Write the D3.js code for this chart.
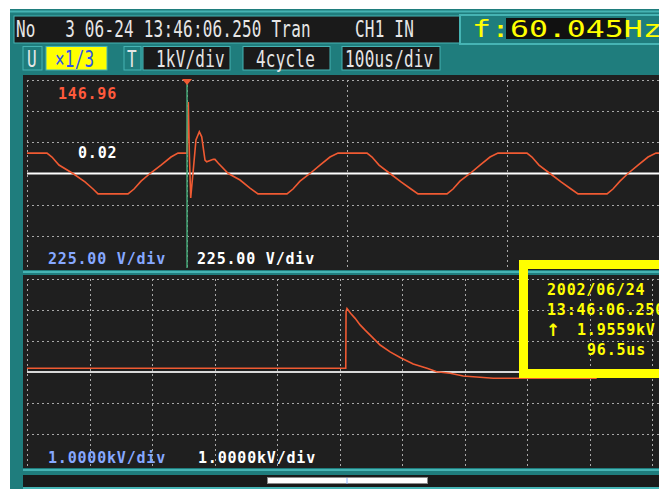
<!DOCTYPE html>
<html>
<head>
<meta charset="utf-8">
<script src="https://cdn.jsdelivr.net/npm/d3@7"></script>
<style>
body { margin: 0; background: #ffffff; }
#chart { width: 659px; height: 489px; }
text { white-space: pre; }
</style>
</head>
<body>
<div id="chart"></div>
<script>

// upper trace: 4 cycles, time in ms, voltage in V (225 V/div)
var topTime = [0, 2.08, 2.60, 3.33, 4.79, 6.04, 6.88, 7.40, 10.52, 11.15, 11.88, 12.81, 13.96, 15.00, 15.73, 16.67,
    16.80, 16.91, 17.05, 17.32, 17.60, 17.95, 18.20, 18.54, 18.72, 19.41, 19.58, 19.93, 20.97,
    22.19, 23.23, 24.06, 27.08, 27.71, 28.44, 29.48, 30.52, 31.56, 32.40,
    35.42, 35.94, 36.67, 37.81, 38.96, 40.00, 40.73, 43.75, 44.38, 45.10, 46.15, 47.19, 48.23, 49.06,
    52.08, 52.60, 53.33, 54.48, 55.63, 56.67, 57.40, 60.42, 61.04, 61.77, 62.60, 63.65, 64.69, 65.52, 66.67];
var topVolt = [147, 147, 119, 61, 0, -61, -112, -147, -147, -112, -55, 0, 61, 119, 147, 147,
    516, 148, -177, 25, 242, 301, 265, 97, 85, 102, 102, 74, 0,
    -47, -105, -147, -147, -112, -55, 0, 61, 119, 147,
    147, 119, 61, 0, -61, -112, -147, -147, -112, -55, 0, 61, 119, 147,
    147, 119, 61, 0, -61, -112, -147, -147, -112, -55, 0, 61, 119, 147, 147];

// lower trace: time in us, voltage in kV (1 kV/div)
var botTime = [0, 510, 510.5, 512, 518, 525, 533, 541, 551.5, 565, 581, 597, 618, 640, 655.5, 677, 698, 746, 911.5];
var botVolt = [0.12, 0.12, 1.95, 2.05, 1.89, 1.73, 1.52, 1.35, 1.14, 0.87, 0.65, 0.47, 0.26, 0.12, 0.01, -0.04, -0.13, -0.2, -0.2];

var topGridV = [675, 450, 225, -225, -450];
var topGridT = [0, 16.667, 33.333, 50];
var botGridV = [3, 2, 1, -1, -2];
var botGridT = [0, 100, 200, 300, 400, 500, 600, 700, 800, 900, 1000];

var cursorTime = 16.67;
var headerText = "No   3 06-24 13:46:06.250 Tran";
var channelText = "CH1 IN";
var freqText = "f:60.045Hz";
var rowLabels = ["U", "×1/3", "T", "1kV/div", "4cycle", "100us/div"];
var topLabels = ["146.96", "0.02", "225.00 V/div", "225.00 V/div"];
var botLabels = ["1.0000kV/div", "1.0000kV/div"];
var infoLines = ["2002/06/24", "13:46:06.250", "1.9559kV", "96.5us"];
var infoArrow = "↑";

var width = 659, height = 489;
var teal = "#1f7d7d", tealLight = "#46b4b4", panel = "#1f1f1f";
var orange = "#f05a32", blue = "#86a8ff";

var svg = d3.select("#chart")
    .append("svg")
    .attr("width", width)
    .attr("height", height);

// background frame
svg.append("rect").attr("x", 10).attr("y", 9).attr("width", width - 10).attr("height", height - 9).attr("fill", teal);
svg.append("line").attr("x1", 10).attr("x2", width).attr("y1", 11.5).attr("y2", 11.5).attr("stroke", tealLight).attr("stroke-width", 2);

// header row
svg.append("rect").attr("x", 14).attr("y", 16).attr("width", 446).attr("height", 27)
    .attr("fill", "#1a1a1a").attr("stroke", tealLight).attr("stroke-width", 1);
svg.append("rect").attr("x", 460).attr("y", 15).attr("width", 210).attr("height", 29)
    .attr("fill", "none").attr("stroke", tealLight).attr("stroke-width", 2);
svg.append("rect").attr("x", 506).attr("y", 18).attr("width", 120).attr("height", 21).attr("fill", "#111");

function thinText(str, x, y, fill) {
    return svg.append("text")
        .attr("transform", `translate(${x},${y}) scale(1,1.4)`)
        .attr("font-family", "DejaVu Sans Mono")
        .attr("font-size", 16)
        .attr("letter-spacing", 0.2)
        .attr("fill", fill)
        .text(str);
}

thinText(headerText, 16, 37, "#e6e6e6");
thinText(channelText, 355, 37, "#e6e6e6");

svg.append("text")
    .attr("transform", "translate(472,37) scale(1.37,1)")
    .attr("font-family", "DejaVu Sans Mono")
    .attr("font-size", 23)
    .attr("fill", "#ffff00")
    .text(freqText);

// second row of boxes
var boxes = [
    {x: 23, w: 19, fill: teal},
    {x: 46, w: 61, fill: "#ffff00"},
    {x: 124, w: 17, fill: teal},
    {x: 143, w: 87, fill: "#1a1a1a"},
    {x: 243, w: 87, fill: "#1a1a1a"},
    {x: 342, w: 98, fill: "#1a1a1a"}
];
var labelX = [27, 55, 127, 156, 256, 345];
boxes.forEach(function(b, i) {
    svg.append("rect").attr("x", b.x).attr("y", 46.5).attr("width", b.w).attr("height", 23.5)
        .attr("fill", b.fill).attr("stroke", tealLight).attr("stroke-width", 1);
    thinText(rowLabels[i], labelX[i], 67, i == 1 ? "#2f55e6" : "#e6e6e6");
});

// panels
var topPanel = {y0: 75, y1: 270};
var botPanel = {y0: 275, y1: 468};
svg.append("rect").attr("x", 23).attr("y", topPanel.y0).attr("width", width - 23).attr("height", topPanel.y1 - topPanel.y0).attr("fill", panel);
svg.append("rect").attr("x", 23).attr("y", botPanel.y0).attr("width", width - 23).attr("height", botPanel.y1 - botPanel.y0).attr("fill", panel);
svg.append("line").attr("x1", 23).attr("x2", width).attr("y1", 272).attr("y2", 272).attr("stroke", tealLight).attr("stroke-width", 2);
svg.append("line").attr("x1", 23).attr("x2", width).attr("y1", 470).attr("y2", 470).attr("stroke", tealLight).attr("stroke-width", 2);

// scales
var xTop = d3.scaleLinear().domain([0, 66.667]).range([27, 667]);
var yTop = d3.scaleLinear().domain([-675, 675]).range([267, 80]);
var xBot = d3.scaleLinear().domain([0, 1000]).range([27, 652]);
var yBot = d3.scaleLinear().domain([-3, 3]).range([465, 279]);

var gridColor = "#a8a8a8";

var topGrid = svg.append("g");
topGrid.selectAll(".h").data(topGridV).enter().append("line")
    .attr("x1", 27).attr("x2", width)
    .attr("y1", function(d) { return Math.round(yTop(d)) + 0.5; })
    .attr("y2", function(d) { return Math.round(yTop(d)) + 0.5; })
    .attr("stroke", gridColor).attr("stroke-dasharray", "2,3");
topGrid.selectAll(".v").data(topGridT).enter().append("line")
    .attr("x1", function(d) { return Math.round(xTop(d)) + 0.5; })
    .attr("x2", function(d) { return Math.round(xTop(d)) + 0.5; })
    .attr("y1", 80).attr("y2", 268)
    .attr("stroke", gridColor).attr("stroke-dasharray", "2,3");

var botGrid = svg.append("g");
botGrid.selectAll(".h").data(botGridV).enter().append("line")
    .attr("x1", 27).attr("x2", width)
    .attr("y1", function(d) { return Math.round(yBot(d)) + 0.5; })
    .attr("y2", function(d) { return Math.round(yBot(d)) + 0.5; })
    .attr("stroke", gridColor).attr("stroke-dasharray", "2,3");
botGrid.selectAll(".v").data(botGridT).enter().append("line")
    .attr("x1", function(d) { return Math.round(xBot(d)) + 0.5; })
    .attr("x2", function(d) { return Math.round(xBot(d)) + 0.5; })
    .attr("y1", 279).attr("y2", 466)
    .attr("stroke", gridColor).attr("stroke-dasharray", "2,3");

// zero lines
svg.append("line").attr("x1", 27).attr("x2", width).attr("y1", yTop(0)).attr("y2", yTop(0))
    .attr("stroke", "#ffffff").attr("stroke-width", 2);
svg.append("line").attr("x1", 27).attr("x2", width).attr("y1", yBot(0)).attr("y2", yBot(0))
    .attr("stroke", "#d8d8d8").attr("stroke-width", 2);

// traces
var topData = topTime.map(function(t, i) { return {t: t, v: topVolt[i]}; });
var botData = botTime.map(function(t, i) { return {t: t, v: botVolt[i]}; });

svg.append("clipPath").attr("id", "clipTop").append("rect")
    .attr("x", 23).attr("y", topPanel.y0).attr("width", width - 23).attr("height", topPanel.y1 - topPanel.y0);

svg.append("path")
    .datum(topData)
    .attr("clip-path", "url(#clipTop)")
    .attr("fill", "none")
    .attr("stroke", orange)
    .attr("stroke-width", 1.6)
    .attr("d", d3.line()
        .x(function(d) { return xTop(d.t); })
        .y(function(d) { return yTop(d.v); }));

svg.append("path")
    .datum(botData)
    .attr("fill", "none")
    .attr("stroke", orange)
    .attr("stroke-width", 1.6)
    .attr("d", d3.line()
        .x(function(d) { return xBot(d.t); })
        .y(function(d) { return yBot(d.v); }));

// trigger cursor
var cx = xTop(cursorTime);
svg.append("line").attr("x1", cx).attr("x2", cx).attr("y1", 80).attr("y2", 268)
    .attr("stroke", "#45a878").attr("stroke-width", 1.5);
svg.append("path")
    .attr("d", `M${cx - 5},79 L${cx + 5},79 L${cx},85 Z`)
    .attr("fill", orange);

// panel labels
function boldText(str, x, y, fill) {
    return svg.append("text")
        .attr("x", x).attr("y", y)
        .attr("font-family", "DejaVu Sans Mono")
        .attr("font-weight", "bold")
        .attr("font-size", 15)
        .attr("letter-spacing", 0.8)
        .attr("fill", fill)
        .text(str);
}

boldText(topLabels[0], 58, 99, "#ff5a3c");
boldText(topLabels[1], 78, 158, "#ffffff");
boldText(topLabels[2], 48, 264, blue);
boldText(topLabels[3], 197, 264, "#ffffff");
boldText(botLabels[0], 48, 463, blue);
boldText(botLabels[1], 198, 463, "#ffffff");

// info box
svg.append("rect").attr("x", 523.5).attr("y", 264.5).attr("width", 160).attr("height", 109)
    .attr("fill", "none").attr("stroke", "#ffff00").attr("stroke-width", 9);
var infoY = [295, 315, 335, 355];
var infoX = [547, 547, 577, 587];
infoLines.forEach(function(s, i) {
    boldText(s, infoX[i], infoY[i], "#ffff00");
});
svg.append("text")
    .attr("x", 546).attr("y", 336)
    .attr("font-family", "DejaVu Sans")
    .attr("font-weight", "bold")
    .attr("font-size", 17)
    .attr("fill", "#ffff00")
    .text(infoArrow);

// scroll bar
svg.append("rect").attr("x", 23).attr("y", 475).attr("width", width - 23).attr("height", 12).attr("fill", "#1a1a1a");
svg.append("rect").attr("x", 267.5).attr("y", 477.5).attr("width", 160).attr("height", 6)
    .attr("fill", "#ffffff").attr("stroke", "#8a8a8a");
svg.append("line").attr("x1", 347).attr("x2", 347).attr("y1", 478).attr("y2", 484).attr("stroke", "#8fb4ff");
svg.append("line").attr("x1", 23).attr("x2", width).attr("y1", 488).attr("y2", 488).attr("stroke", tealLight).attr("stroke-width", 2);

</script>
</body>
</html>
